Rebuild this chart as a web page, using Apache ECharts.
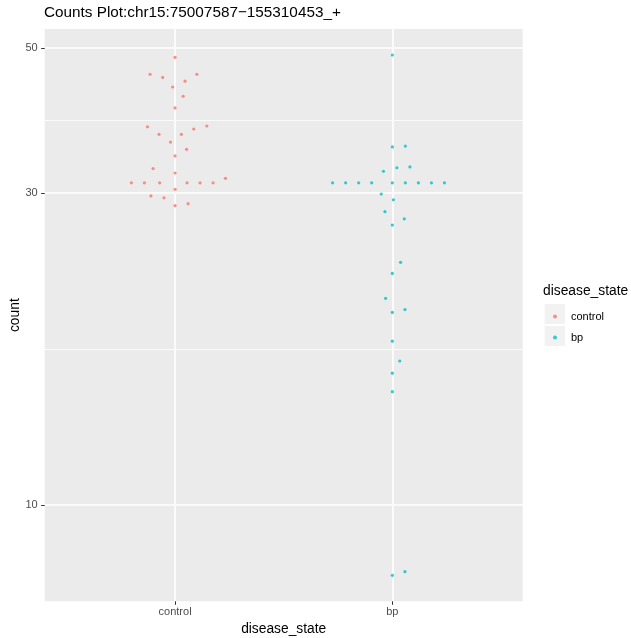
<!DOCTYPE html>
<html>
<head>
<meta charset="utf-8">
<script src="https://cdn.jsdelivr.net/npm/echarts@6/dist/echarts.min.js"></script>
<style>
  html, body { margin: 0; padding: 0; background: #fff; }
  #chart { width: 631px; height: 638px; }
</style>
</head>
<body>
<div id="chart"></div>
<script>
// groups on the x axis (positions 1 and 2)
const groups = ['control', 'bp'];
const colors = ['#F8766D', '#00BFC4'];

// counts, with the beeswarm offset of each point (in group units)
const controlCounts = [48.4, 45.6, 45.1, 45.6, 44.5, 43.6, 42.2, 40.5, 37.9, 36.9, 36.9, 37.6, 38.0, 35.9, 35.0, 34.2,
  32.7, 32.2, 31.6, 31.1, 31.1, 31.1, 31.1, 31.1, 31.1, 30.4, 29.7, 29.5, 28.9, 28.7];
const controlOffsets = [0, -0.115, -0.057, 0.100, 0.046, -0.011, 0.037, 0, -0.127, -0.074, 0.029, 0.086, 0.146, -0.021, 0.053, 0,
  -0.101, 0, 0.232, -0.201, -0.141, -0.071, 0.055, 0.115, 0.175, 0, -0.111, -0.051, 0.060, 0];

const bpCounts = [48.8, 35.3, 35.4, 32.4, 32.8, 32.9, 31.1, 31.1, 31.1, 31.1, 31.1, 31.1, 31.1, 31.1, 31.1,
  29.9, 29.3, 28.1, 27.4, 26.8, 23.5, 22.6, 20.7, 19.9, 19.7, 17.8, 16.6, 15.9, 14.9, 7.9, 7.8];
const bpOffsets = [0, 0, 0.060, -0.041, 0.021, 0.081, -0.275, -0.215, -0.155, -0.095, 0, 0.06, 0.12, 0.18, 0.24,
  -0.051, 0.005, -0.034, 0.055, 0, 0.038, 0, -0.031, 0.058, 0, 0, 0.034, 0, 0, 0.058, 0];

// y axis breaks (log10 scale)
const yBreaks = [10, 30, 50];

const log10 = v => Math.log10(v);
const yMajor = yBreaks.map(log10);
const yMinor = [];
for (let i = 0; i < yMajor.length - 1; i++) yMinor.push((yMajor[i] + yMajor[i + 1]) / 2);

// ggplot-like 5% expansion of the log range
const allLog = controlCounts.concat(bpCounts).map(log10);
const lo = Math.min(...allLog), hi = Math.max(...allLog);
const pad = (hi - lo) * 0.05;

const toPoints = (counts, offsets, g) => counts.map((c, i) => [g + 1 + offsets[i], log10(c)]);

const chart = echarts.init(document.getElementById('chart'));
const font = 'Liberation Sans, Arial, sans-serif';

chart.setOption({
  animation: false,
  textStyle: { fontFamily: font },
  title: [
    {
      text: 'Counts Plot:chr15:75007587\u2212155310453_+',
      left: 44, top: 5, padding: 0,
      textStyle: { fontSize: 15.3, fontWeight: 'normal', color: '#000', fontFamily: font }
    },
    {
      text: 'disease_state',
      left: 543, top: 284, padding: 0,
      textStyle: { fontSize: 13.8, fontWeight: 'normal', color: '#000', fontFamily: font }
    }
  ],
  grid: {
    left: 44.7, right: 108.3, top: 29, bottom: 36.7,
    containLabel: false, outerBoundsMode: 'none',
    show: true, backgroundColor: '#EBEBEB', borderWidth: 0
  },
  legend: {
    data: groups,
    orient: 'vertical',
    left: 553, top: 311, padding: 0,
    icon: 'circle',
    itemWidth: 4, itemHeight: 4, itemGap: 10,
    textStyle: { fontSize: 11, color: '#000', padding: [0, 0, 0, 9] }
  },
  graphic: [
    { type: 'rect', left: 544.5, top: 304, shape: { width: 20.5, height: 20 }, style: { fill: '#F2F2F2' }, z: -1 },
    { type: 'rect', left: 544.5, top: 326, shape: { width: 20.5, height: 20 }, style: { fill: '#F2F2F2' }, z: -1 }
  ],
  xAxis: {
    type: 'value',
    min: 0.4, max: 2.6,
    name: 'disease_state',
    nameLocation: 'middle',
    nameGap: 21,
    nameMoveOverlap: false,
    nameTextStyle: { fontSize: 13.8, color: '#000' },
    axisLine: { show: false },
    axisTick: { show: true, customValues: [1, 2], length: 3.5, lineStyle: { color: '#333', width: 1 } },
    axisLabel: {
      customValues: [1, 2],
      formatter: v => groups[Math.round(v) - 1],
      fontSize: 11, color: '#4D4D4D', margin: 5
    },
    splitLine: { show: true, lineStyle: { color: '#fff', width: 1.6 } }
  },
  yAxis: [
    {
      type: 'value',
      min: lo - pad, max: hi + pad,
      name: 'count',
      nameLocation: 'middle',
      nameRotate: 90,
      nameGap: 23,
      nameMoveOverlap: false,
      nameTextStyle: { fontSize: 13.8, color: '#000' },
      axisLine: { show: false },
      axisTick: { show: true, customValues: yMajor, length: 3.5, lineStyle: { color: '#333', width: 1 } },
      axisLabel: {
        customValues: yMajor,
        formatter: v => String(Math.round(Math.pow(10, v))),
        fontSize: 11, color: '#4D4D4D', margin: 7
      },
      splitLine: { show: true, lineStyle: { color: '#fff', width: 1.6 } }
    },
    {
      type: 'value',
      min: lo - pad, max: hi + pad,
      axisLine: { show: false },
      axisTick: { show: false, customValues: yMinor },
      axisLabel: { show: false },
      splitLine: { show: true, lineStyle: { color: '#fff', width: 0.8 } }
    }
  ],
  series: [
    {
      name: groups[0],
      type: 'scatter',
      symbolSize: 3.2,
      itemStyle: { color: colors[0] },
      data: toPoints(controlCounts, controlOffsets, 0)
    },
    {
      name: groups[1],
      type: 'scatter',
      symbolSize: 3.2,
      itemStyle: { color: colors[1] },
      data: toPoints(bpCounts, bpOffsets, 1)
    }
  ]
});
</script>
</body>
</html>
